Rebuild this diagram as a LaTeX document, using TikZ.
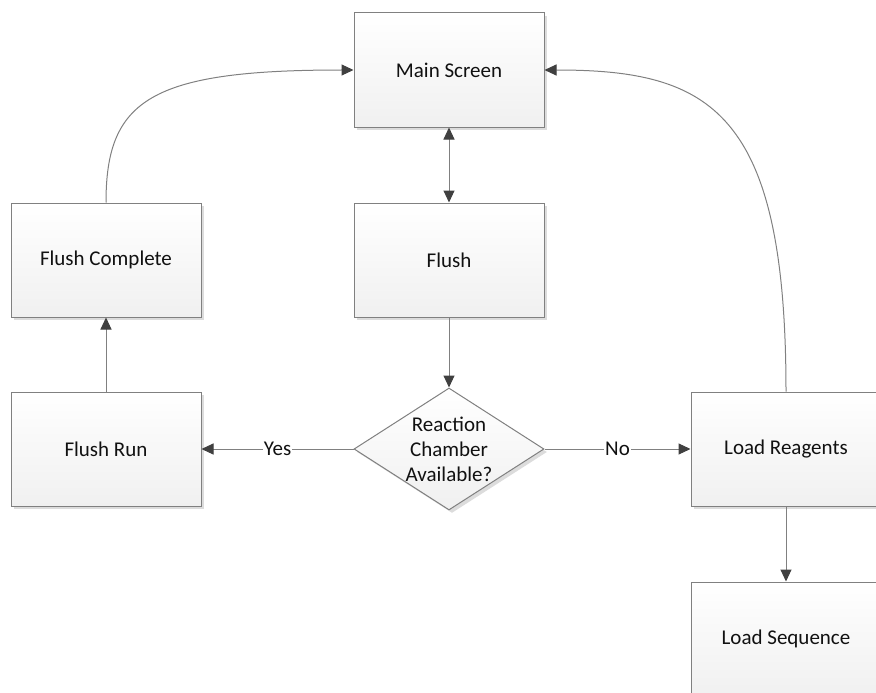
\documentclass[tikz,border=0pt]{standalone}
\usepackage{fontspec}
\setmainfont{Carlito}
\usetikzlibrary{arrows.meta,shapes.geometric,shadows}
\definecolor{edgec}{HTML}{808080}
\definecolor{tipc}{HTML}{404040}
\definecolor{shadec}{HTML}{DCDCDC}
\definecolor{boxbot}{HTML}{F0F0F0}
\definecolor{txtc}{HTML}{111111}
\tikzset{
  procbox/.style={rectangle, draw=edgec, line width=1pt, top color=white, bottom color=boxbot,
    minimum width=190pt, minimum height=114pt, inner sep=0pt, text=txtc,
    font=\fontsize{21}{25}\selectfont,
    general shadow={fill=shadec, shadow xshift=3pt, shadow yshift=-3pt}},
  decbox/.style={diamond, draw=edgec, line width=1pt, top color=white, bottom color=boxbot,
    minimum width=190pt, minimum height=122pt, inner sep=0pt,
    general shadow={fill=shadec, shadow xshift=3pt, shadow yshift=-3pt}},
  dectext/.style={align=center, text=txtc, font=\fontsize{21}{25}\selectfont, inner sep=0pt},
  conn/.style={draw=edgec, line width=1pt},
  arr/.style={conn, -{Triangle[length=12pt,width=11pt,color=tipc]}},
  darr/.style={conn, {Triangle[length=12pt,width=11pt,color=tipc]}-{Triangle[length=12pt,width=11pt,color=tipc]}},
  lbl/.style={fill=white, text=txtc, inner sep=1pt, font=\fontsize{21}{25}\selectfont}
}
\begin{document}
\begin{tikzpicture}[x=1pt, y=-1pt]
\useasboundingbox (0,0) rectangle (876,693);
\clip (0,0) rectangle (876,693);
\node[procbox] (main) at (449,70) {Main Screen};
\node[procbox] (flush) at (449,260) {Flush};
\node[procbox] (fcomp) at (106,260) {Flush Complete};
\node[procbox] (frun) at (106,449) {Flush Run};
\node[decbox] (dec) at (449,449) {};
\node[dectext] (dectxt) at (449,449) {Reaction\\Chamber\\Available?};
\node[procbox] (lreag) at (786,449) {Load Reagents};
\node[procbox] (lseq) at (786,639) {Load Sequence};

\draw[darr] (main.south) -- (flush.north);
\draw[arr] (flush.south) -- (dec.north);
\draw[arr] (dec.west) -- node[lbl] {Yes} (frun.east);
\draw[arr] (dec.east) -- node[lbl] {No} (lreag.west);
\draw[arr] (frun.north) -- (fcomp.south);
\draw[arr] (fcomp.north) .. controls (106,100) and (150,70) .. (main.west);
\draw[arr] (lreag.north) .. controls (786,110) and (710,70) .. (main.east);
\draw[arr] (lreag.south) -- (lseq.north);
\end{tikzpicture}
\end{document}
